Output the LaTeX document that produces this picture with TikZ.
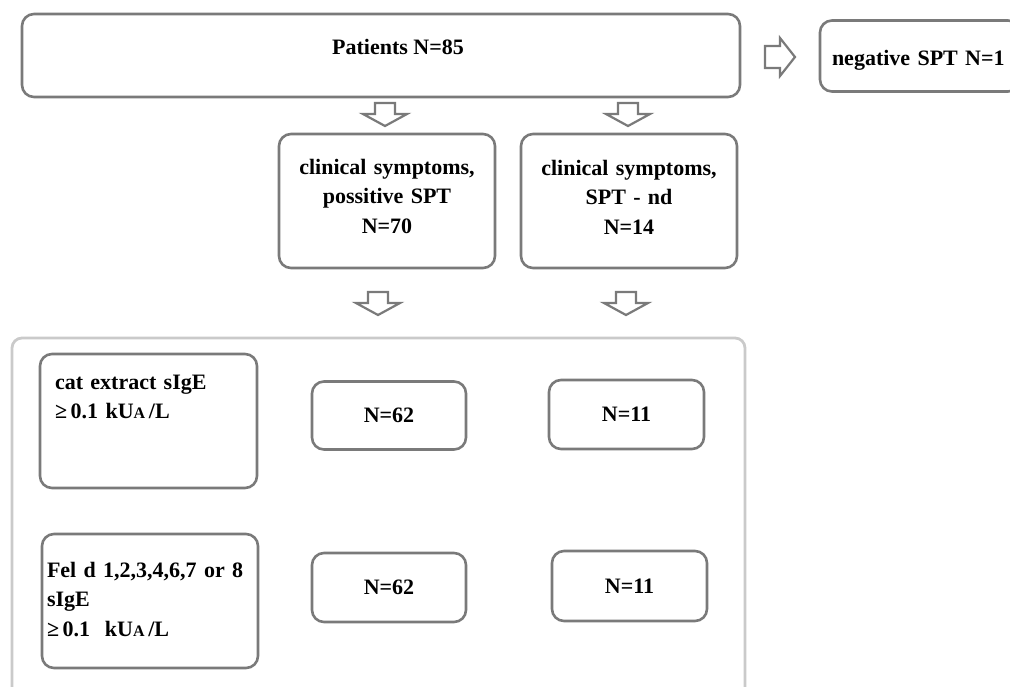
\documentclass[tikz,border=0pt]{standalone}
\usepackage{fontspec}
\setmainfont{Liberation Serif}
\definecolor{boxgray}{RGB}{122,122,122}
\definecolor{framegray}{RGB}{202,202,202}
\newcommand{\kua}{kU{\fontsize{16}{16}\selectfont A}\,/L}

\begin{document}
\begin{tikzpicture}[x=1pt,y=-1pt,
    txt/.style={font=\bfseries\fontsize{22}{29.5}\selectfont},
    box/.style={txt,draw=boxgray,line width=2.6pt,rounded corners=12pt,inner sep=0pt},
    nbox/.style={box,minimum width=154pt,minimum height=68pt},
    bigbox/.style={box,minimum width=216pt,minimum height=134pt,text height=13pt},
    hollow/.style={draw=boxgray,line width=2.2pt,line join=miter},
    downarr/.pic={\draw[hollow] (-10,-11) -- (10,-11) -- (10,0) -- (22,0) -- (0,12) -- (-22,0) -- (-10,0) -- cycle;},
    rightarr/.pic={\draw[hollow] (-15,-11) -- (0,-11) -- (0,-19) -- (15,0) -- (0,19) -- (0,11) -- (-15,11) -- cycle;}]
    \useasboundingbox (0,0) rectangle (1010,686);
    \clip (0,0) rectangle (1010,686);

    % top row
    \node [box,minimum width=718pt,minimum height=83pt] (patients) at (381,55.5) {};
    \node [txt] (patientslbl) at (398,47) {Patients N=85};
    \node [box,minimum width=200pt,minimum height=71pt,text width=176pt,inner xsep=12pt,
           align=left,text height=22pt,text depth=4pt] (negative) at (920,56) {negative SPT N=1};
    \pic at (780,57) {rightarr};

    % second row
    \pic at (385,114) {downarr};
    \pic at (628,114) {downarr};
    \node [bigbox,text width=210pt,align=center,text depth=67pt] (possitive) at (387,201)
          {clinical symptoms,\\ possitive SPT\\ N=70};
    \node [bigbox,text width=210pt,align=center,text depth=65pt] (notdone) at (629,201)
          {clinical symptoms,\\ SPT - nd\\ N=14};
    \pic at (378,303) {downarr};
    \pic at (626,303) {downarr};

    % results frame
    \draw [draw=framegray,line width=2.8pt,rounded corners=10pt] (12,338) rectangle (745,720);
    \node [bigbox,minimum width=217pt,text width=187pt,inner xsep=15pt,align=left,text depth=77pt]
          (catextract) at (148.5,421) {cat extract sIgE\\ ≥\,0.1 \kua};
    \node [nbox] (catpos) at (389,415.5) {N=62};
    \node [nbox,minimum height=69pt,minimum width=155pt] (catnd) at (626.5,414.5) {N=11};
    \node [bigbox,text width=206pt,inner xsep=5pt,align=left,text depth=61pt]
          (feld) at (150,601) {Fel d 1,2,3,4,6,7 or 8\\ sIgE\\ ≥\,0.1~~\kua};
    \node [nbox,minimum height=69pt] (feldpos) at (389,587.5) {N=62};
    \node [nbox,minimum height=70pt,minimum width=155pt] (feldnd) at (629.5,586) {N=11};
\end{tikzpicture}
\end{document}
